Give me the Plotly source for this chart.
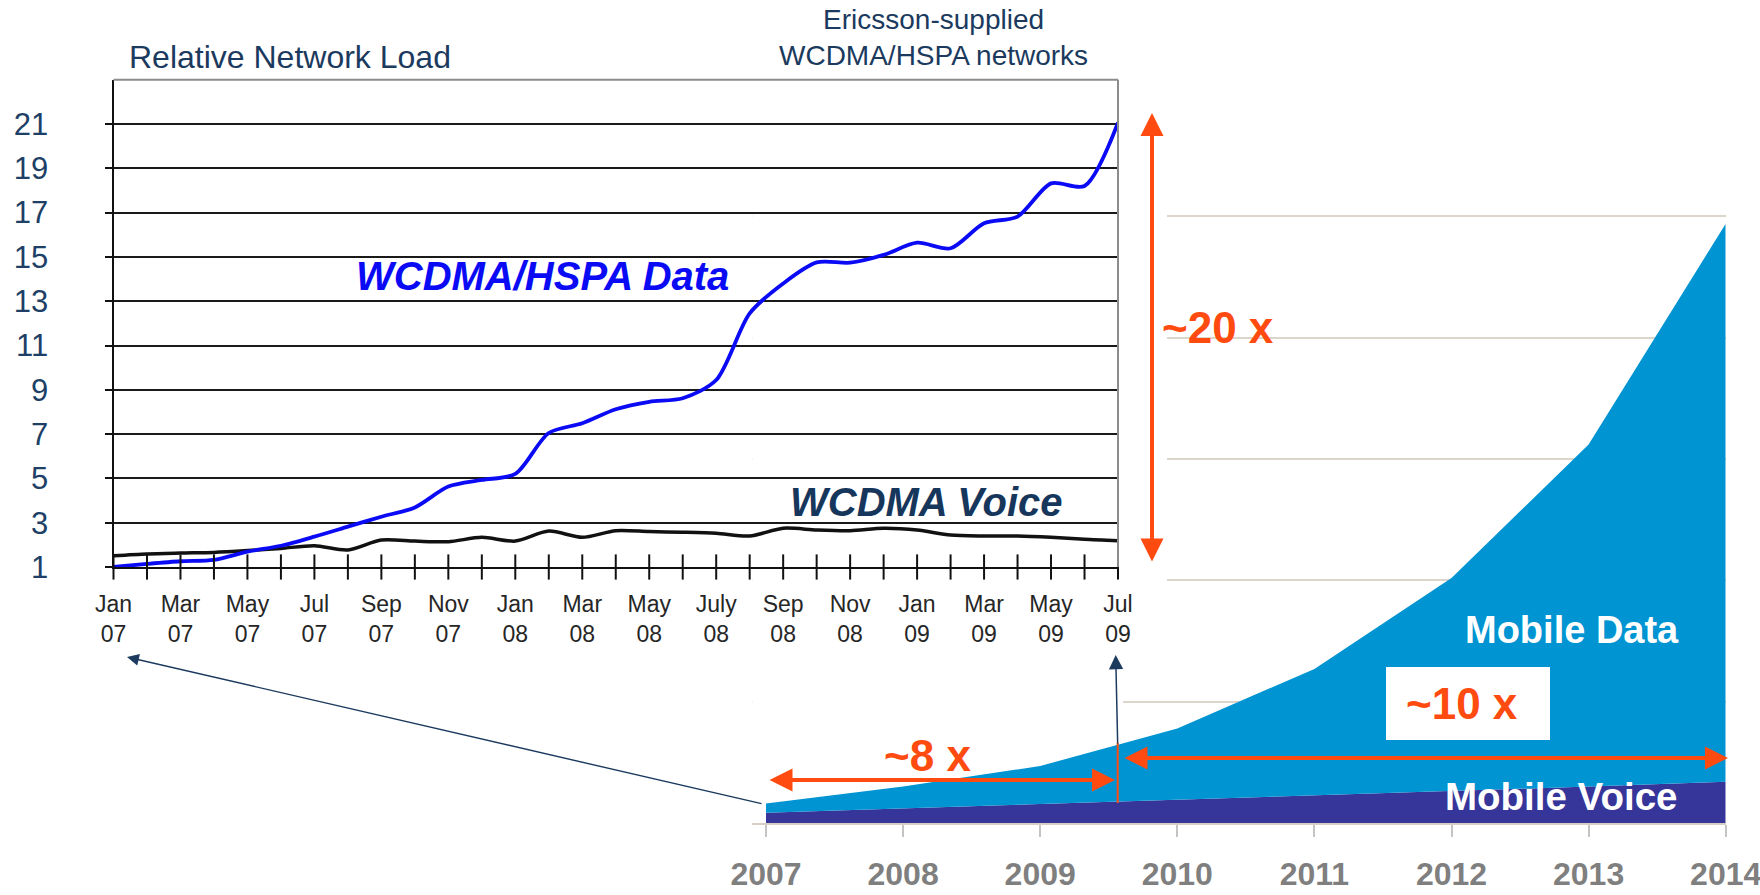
import plotly.graph_objects as go

# ---------------- data ----------------
# Inset: relative network load, Ericsson-supplied WCDMA/HSPA networks (Jan 07 .. Jul 09, monthly)
month_index = list(range(31))
month_tickvals = list(range(0, 31, 2))
month_ticktext = ["Jan<br>07", "Mar<br>07", "May<br>07", "Jul<br>07", "Sep<br>07", "Nov<br>07",
                  "Jan<br>08", "Mar<br>08", "May<br>08", "July<br>08", "Sep<br>08", "Nov<br>08",
                  "Jan<br>09", "Mar<br>09", "May<br>09", "Jul<br>09"]
hspa_data = [1.0, 1.14, 1.26, 1.32, 1.69, 1.96, 2.37, 2.82, 3.27, 3.69, 4.63, 4.93, 5.2,
             7.05, 7.49, 8.12, 8.46, 8.62, 9.44, 12.45, 13.8, 14.75, 14.74, 15.09, 15.64,
             15.39, 16.52, 16.82, 18.32, 18.2, 21.06]
wcdma_voice = [1.51, 1.59, 1.63, 1.66, 1.74, 1.84, 1.96, 1.77, 2.22, 2.17, 2.14, 2.34, 2.17,
               2.62, 2.34, 2.64, 2.60, 2.57, 2.52, 2.40, 2.75, 2.67, 2.64, 2.75, 2.67,
               2.44, 2.40, 2.40, 2.34, 2.25, 2.19]
load_ticks = list(range(1, 22, 2))

# Background: mobile traffic forecast 2007..2014 (stacked area, arbitrary units)
years = [2007, 2008, 2009, 2010, 2011, 2012, 2013, 2014]
mobile_voice = [0.085, 0.12, 0.155, 0.19, 0.23, 0.265, 0.30, 0.34]
mobile_data = [0.075, 0.18, 0.315, 0.59, 1.04, 1.755, 2.82, 4.60]

# ---------------- style ----------------
W, H = 1760, 895
FONT = "Liberation Sans, Arial, sans-serif"
ORANGE = "#FF4B10"
NAVY = "#1B3A5E"
DATA_C = "#0094D2"
VOICE_C = "#35359A"
BLUE = "#0A0AF5"

INSET_L, INSET_R, INSET_B, INSET_T = 113.5, 1118, 567, 79.7


def px(x):
    return x / W


def py(y):
    return 1 - y / H


fig = go.Figure()

# background stacked area
fig.add_trace(go.Scatter(x=years, y=mobile_voice, stackgroup="bg", mode="lines",
                         line=dict(width=0), fillcolor=VOICE_C, hoverinfo="skip",
                         xaxis="x", yaxis="y"))
fig.add_trace(go.Scatter(x=years, y=mobile_data, stackgroup="bg", mode="lines",
                         line=dict(width=0), fillcolor=DATA_C, hoverinfo="skip",
                         xaxis="x", yaxis="y"))

# inset lines
fig.add_trace(go.Scatter(x=month_index, y=wcdma_voice, mode="lines",
                         line=dict(color="#111111", width=3.5, shape="spline", smoothing=0.8),
                         hoverinfo="skip", xaxis="x2", yaxis="y2"))
fig.add_trace(go.Scatter(x=month_index, y=hspa_data, mode="lines",
                         line=dict(color=BLUE, width=3.8, shape="spline", smoothing=0.8),
                         hoverinfo="skip", xaxis="x2", yaxis="y2"))
# crossing monthly ticks on the inset x axis
fig.add_trace(go.Scatter(x=month_index, y=[load_ticks[0]] * len(month_index), mode="markers",
                         marker=dict(symbol="line-ns", size=18, line=dict(width=2, color="#111111")),
                         cliponaxis=False, hoverinfo="skip", xaxis="x2", yaxis="y2"))

layout = dict(
    width=W, height=H,
    margin=dict(l=0, r=0, t=0, b=0, pad=0, autoexpand=False),
    paper_bgcolor="white", plot_bgcolor="rgba(0,0,0,0)",
    showlegend=False,
    font=dict(family=FONT),
    xaxis=dict(domain=[px(752.3), px(1725.7)], range=[2006.9, 2014.0], anchor="y",
               tickvals=years, ticktext=[str(y) for y in years],
               tickfont=dict(size=32, color="#7F7F7F", family=FONT, weight="bold"),
               ticks="outside", ticklen=12, tickwidth=2, tickcolor="#C4C4C4",
               ticklabelstandoff=10, ticklabeloverflow="allow", automargin=False,
               showline=True, linecolor="#D6D0C4", linewidth=2,
               showgrid=False, zeroline=False, fixedrange=True),
    yaxis=dict(domain=[py(823), py(192.2)], range=[0, 5.2], anchor="x",
               dtick=1, showticklabels=False, ticks="", automargin=False,
               showgrid=True, gridcolor="#DCD6CA", gridwidth=2,
               zeroline=False, showline=False, fixedrange=True),
    xaxis2=dict(domain=[px(INSET_L), px(INSET_R)], range=[0, 30], anchor="y2",
                tickvals=month_tickvals, ticktext=month_ticktext,
                tickfont=dict(size=23, color="#262626", family=FONT),
                ticks="", ticklabelstandoff=15, automargin=False,
                showline=True, linecolor="#111111", linewidth=2,
                showgrid=False, zeroline=False, fixedrange=True),
    yaxis2=dict(domain=[py(INSET_B), py(INSET_T)], range=[1, 23], anchor="x2",
                tickvals=load_ticks, ticktext=[str(v) for v in load_ticks],
                tickfont=dict(size=31, color="#1E3F66", family=FONT),
                ticks="outside", ticklen=7, tickwidth=2, tickcolor="#111111",
                ticklabelstandoff=50, automargin=False,
                showline=True, linecolor="#111111", linewidth=2,
                showgrid=True, gridcolor="#1A1A1A", gridwidth=2,
                zeroline=False, fixedrange=True),
)
fig.update_layout(**layout)

shapes = [
    # white cover hiding background gridlines behind the inset picture
    dict(type="rect", xref="x", yref="y", x0=2006.0, x1=2009.925, y0=1.5, y1=6.0,
         fillcolor="white", line=dict(width=0), layer="between"),
    dict(type="rect", xref="x", yref="y", x0=2006.0, x1=2009.604, y0=0.5, y1=1.5,
         fillcolor="white", line=dict(width=0), layer="between"),
    # inset grey frame (top / right)
    dict(type="line", xref="paper", yref="paper", x0=px(INSET_L), x1=px(INSET_R),
         y0=py(INSET_T), y1=py(INSET_T), line=dict(color="#8C8C8C", width=2), layer="above"),
    dict(type="line", xref="paper", yref="paper", x0=px(INSET_R), x1=px(INSET_R),
         y0=py(INSET_T), y1=py(INSET_B), line=dict(color="#8C8C8C", width=2), layer="above"),
    # thin orange separator through the area at mid-2009
    dict(type="line", xref="paper", yref="paper", x0=px(1117.7), x1=px(1117.7),
         y0=py(803), y1=py(743), line=dict(color=ORANGE, width=2), layer="above"),
    # white box behind "~10 x"
    dict(type="rect", xref="paper", yref="paper", x0=px(1386), x1=px(1550),
         y0=py(740), y1=py(667), fillcolor="white", line=dict(width=0), layer="above"),
]
fig.update_layout(shapes=shapes)


def arrow(hx, hy, tx, ty, color, width, size, both=True):
    d = dict(x=px(hx), y=py(hy), xref="paper", yref="paper",
             ax=tx - hx, ay=ty - hy, axref="pixel", ayref="pixel",
             text="", showarrow=True, arrowhead=2, arrowsize=size,
             arrowwidth=width, arrowcolor=color, standoff=0,
             font=dict(size=1))
    if both:
        d.update(arrowside="end+start", startarrowhead=2, startarrowsize=size, startstandoff=0)
    return d


def label(text, x, y, size, color, bold=False, italic=False, xanchor="center"):
    return dict(x=px(x), y=py(y), xref="paper", yref="paper", text=text,
                showarrow=False, xanchor=xanchor, yanchor="middle",
                font=dict(family=FONT, size=size, color=color,
                          weight="bold" if bold else "normal",
                          style="italic" if italic else "normal"))


annotations = [
    arrow(1152, 113, 1152, 563, ORANGE, 4, 1.15),
    arrow(1115, 780, 768, 780, ORANGE, 4, 1.15),
    arrow(1728, 758, 1123, 758, ORANGE, 4, 1.15),
    arrow(1115.7, 655, 1117.7, 745, NAVY, 1.5, 1.9, both=False),
    arrow(127, 657, 763, 804, NAVY, 1.4, 1.7, both=False),
    label("Relative Network Load", 127, 57, 32, NAVY, xanchor="left"),
    label("Ericsson-supplied<br>WCDMA/HSPA networks", 933, 38, 28, NAVY),
    label("WCDMA/HSPA Data", 542, 276, 40, BLUE, bold=True, italic=True),
    label("WCDMA Voice", 926, 502, 40, "#16365C", bold=True, italic=True),
    label("~20 x", 1218, 327, 44, ORANGE, bold=True),
    label("~8 x", 928, 755, 44, ORANGE, bold=True),
    label("~10 x", 1462, 703, 44, ORANGE, bold=True),
    label("Mobile Data", 1572, 630, 38, "white", bold=True),
    label("Mobile Voice", 1561, 796, 38.5, "white", bold=True),
]
fig.update_layout(annotations=annotations)

# page body margin removed so the 1760x895 figure fills the window exactly
fig.write_html("out.html", config={"displayModeBar": False},
               post_script="document.body.style.margin='0px';")
